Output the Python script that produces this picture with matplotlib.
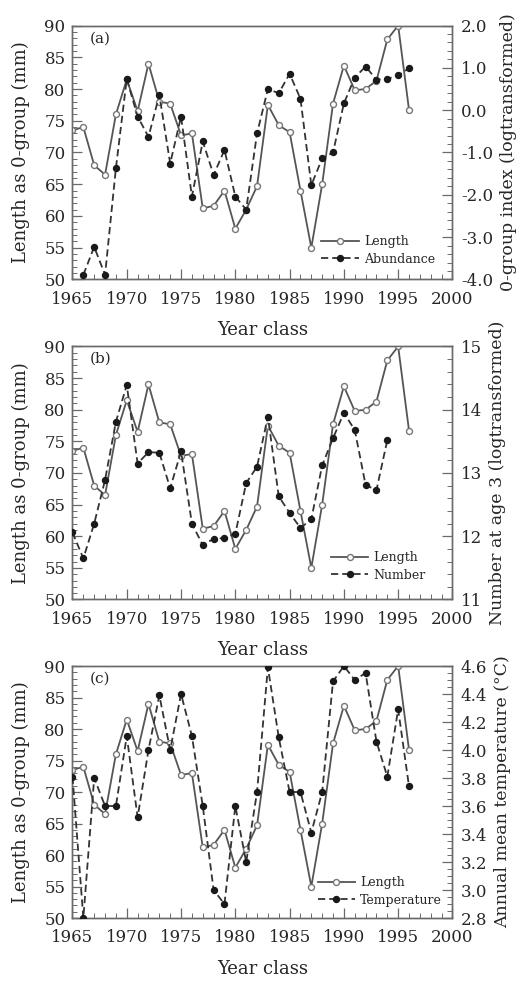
#!/usr/bin/env python3
"""Length of 0-group fish vs abundance, number at age 3 and temperature, by year class."""

import matplotlib
matplotlib.use("Agg")
import matplotlib.pyplot as plt
from matplotlib.ticker import MultipleLocator, FormatStrFormatter
import numpy as np

# ── Data ────────────────────────────────────────────────────────────────
years_len = np.arange(1965, 1997)
length_mm = [73.5, 74.0, 68.0, 66.5, 76.0, 81.5, 76.5, 84.0, 78.0, 77.7,
             72.7, 73.0, 61.2, 61.6, 64.0, 58.0, 61.0, 64.7, 77.5, 74.3,
             73.2, 64.0, 55.0, 65.0, 77.7, 83.7, 79.8, 80.0, 81.3, 87.8,
             90.0, 76.7]

years_abund = np.arange(1966, 1997)
abundance = [-3.89, -3.23, -3.89, -1.37, 0.74, -0.15, -0.63, 0.36, -1.26, -0.15,
             -2.04, -0.74, -1.53, -0.94, -2.04, -2.35, -0.55, 0.50, 0.40, 0.86,
             0.27, -1.77, -1.14, -1.00, 0.16, 0.77, 1.03, 0.72, 0.74, 0.82,
             0.99]

years_num = np.arange(1965, 1995)
number_age3 = [12.06, 11.65, 12.20, 12.89, 13.81, 14.39, 13.15, 13.33, 13.32, 12.76,
               13.34, 12.20, 11.86, 11.96, 11.97, 12.04, 12.84, 13.10, 13.89, 12.63,
               12.37, 12.13, 12.27, 13.12, 13.55, 13.95, 13.68, 12.81, 12.73, 13.52]

years_temp = np.arange(1965, 1997)
temperature = [3.81, 2.80, 3.80, 3.60, 3.60, 4.10, 3.52, 4.00, 4.39, 4.00,
               4.40, 4.10, 3.60, 3.00, 2.90, 3.60, 3.20, 3.70, 4.59, 4.09,
               3.70, 3.70, 3.41, 3.70, 4.49, 4.60, 4.50, 4.55, 4.06, 3.81,
               4.29, 3.74]

panels = [
    dict(tag="(a)", years=years_abund, values=abundance, name="Abundance",
         ylabel="0-group index (logtransformed)", ylim=(-4.0, 2.0),
         major=1.0, minor=0.2, fmt="%.1f", leg=(0.655, 0.055)),
    dict(tag="(b)", years=years_num, values=number_age3, name="Number",
         ylabel="Number at age 3 (logtransformed)", ylim=(11, 15),
         major=1, minor=0.2, fmt="%d", leg=(0.68, 0.07)),
    dict(tag="(c)", years=years_temp, values=temperature, name="Temperature",
         ylabel="Annual mean temperature (\u00b0C)", ylim=(2.8, 4.6),
         major=0.2, minor=0.05, fmt="%.1f", leg=(0.645, 0.045)),
]

plt.rcParams["font.family"] = ["DejaVu Serif"]
plt.rcParams["axes.unicode_minus"] = True
TXT = "#262626"
EDGE = "#6a6a6a"

fig = plt.figure(figsize=(5.23, 9.81), dpi=100)
boxes = [(0.1386, 0.7151, 0.7265, 0.2589),
         (0.1386, 0.3889, 0.7265, 0.2579),
         (0.1386, 0.0642, 0.7265, 0.2569)]

for box, p in zip(boxes, panels):
    ax = fig.add_axes(box)
    ax2 = ax.twinx()

    l1, = ax.plot(years_len, length_mm, "-", color="#555555", lw=1.3,
                  marker="o", ms=4.3, mfc="white", mec="#777777", mew=1.0,
                  label="Length", zorder=3)
    l2, = ax2.plot(p["years"], p["values"], color="#333333", lw=1.3,
                   linestyle=(0, (4, 2.2)), marker="o", ms=4.3, mfc="#1a1a1a",
                   mec="#1a1a1a", label=p["name"], zorder=3)

    ax.set_xlim(1965, 2000)
    ax.set_ylim(50, 90)
    ax2.set_ylim(*p["ylim"])

    ax.xaxis.set_major_locator(MultipleLocator(5))
    ax.xaxis.set_minor_locator(MultipleLocator(1))
    ax.yaxis.set_major_locator(MultipleLocator(5))
    ax.yaxis.set_minor_locator(MultipleLocator(1))
    ax2.yaxis.set_major_locator(MultipleLocator(p["major"]))
    ax2.yaxis.set_minor_locator(MultipleLocator(p["minor"]))
    ax2.yaxis.set_major_formatter(FormatStrFormatter(p["fmt"]))

    for a in (ax, ax2):
        a.tick_params(which="both", direction="in", colors=EDGE,
                      labelcolor=TXT, labelsize=12)
        a.tick_params(which="major", length=7, width=0.9)
        a.tick_params(which="minor", length=3.5, width=0.7)
        for s in a.spines.values():
            s.set_color(EDGE)
            s.set_linewidth(1.0)
    ax.tick_params(axis="x", pad=8)
    ax.tick_params(axis="y", pad=5)
    ax2.tick_params(axis="y", pad=6)

    ax.set_xlabel("Year class", fontsize=13, color=TXT, labelpad=10)
    ax.set_ylabel("Length as 0-group (mm)", fontsize=13, color=TXT, labelpad=10)
    ax2.set_ylabel(p["ylabel"], fontsize=12.5, color=TXT, labelpad=5)

    ax.text(0.045, 0.95, p["tag"], transform=ax.transAxes, fontsize=11,
            color=TXT, ha="left", va="center")

    ax2.legend([l1, l2], ["Length", p["name"]], loc="lower left",
               bbox_to_anchor=p["leg"], frameon=False, fontsize=9,
               handlelength=3.0, handletextpad=0.4, labelspacing=0.35,
               borderpad=0, borderaxespad=0, numpoints=1, labelcolor=TXT)

fig.savefig("out.png", dpi=100)
